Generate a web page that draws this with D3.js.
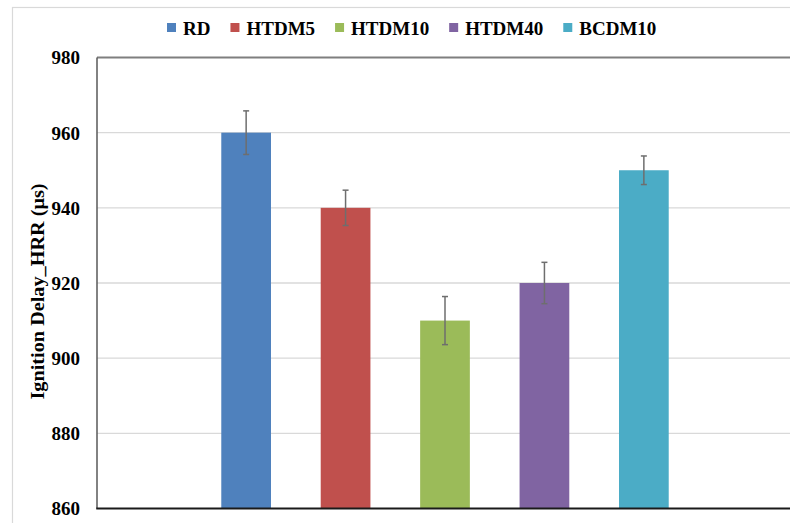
<!DOCTYPE html>
<html>
<head>
<meta charset="utf-8">
<script src="https://cdn.jsdelivr.net/npm/d3@7"></script>
<style>
  html, body { margin: 0; padding: 0; background: #ffffff; }
  svg { display: block; }
  text { font-family: "Liberation Serif", "Times New Roman", serif; font-weight: bold; fill: #000; }
</style>
</head>
<body>
<svg id="chart" width="790" height="523"></svg>
<script>
// Ignition delay (HRR based) per fuel blend, with error bars
const categories = ["RD", "HTDM5", "HTDM10", "HTDM40", "BCDM10"];
const values = [960, 940, 910, 920, 950];
const errors = [5.8, 4.7, 6.4, 5.5, 3.8];
const colors = ["#4F81BD", "#C0504D", "#9BBB59", "#8064A2", "#4BACC6"];
const yTicks = [860, 880, 900, 920, 940, 960, 980];
const yTitle = "Ignition Delay_HRR (\u03bcs)";

const svg = d3.select("#chart");
const plot = { left: 97, right: 793, top: 57.5, bottom: 508.5 };

// outer chart frame
svg.append("rect")
  .attr("x", 12.5).attr("y", 7.5)
  .attr("width", 820).attr("height", 540)
  .attr("fill", "#fff").attr("stroke", "#d9d9d9").attr("stroke-width", 1.2);

const x = d3.scaleBand()
  .domain(categories)
  .range([plot.left, plot.right])
  .paddingInner(0.5)
  .paddingOuter(1.25);

const y = d3.scaleLinear()
  .domain([860, 980])
  .range([plot.bottom, plot.top]);

// gridlines
svg.append("g")
  .selectAll("line")
  .data(yTicks.filter(t => t > 860 && t < 980))
  .join("line")
  .attr("x1", plot.left).attr("x2", plot.right)
  .attr("y1", d => y(d)).attr("y2", d => y(d))
  .attr("stroke", "#d9d9d9").attr("stroke-width", 1.3);

// bars
svg.append("g")
  .selectAll("rect")
  .data(categories)
  .join("rect")
  .attr("x", d => x(d))
  .attr("width", x.bandwidth())
  .attr("y", (d, i) => y(values[i]))
  .attr("height", (d, i) => y(860) - y(values[i]))
  .attr("fill", (d, i) => colors[i]);

// error bars
const eb = svg.append("g").attr("stroke", "#6e6e6e").attr("stroke-width", 1.5);
categories.forEach((c, i) => {
  const cx = x(c) + x.bandwidth() / 2;
  const y1 = y(values[i] + errors[i]);
  const y2 = y(values[i] - errors[i]);
  eb.append("line").attr("x1", cx).attr("x2", cx).attr("y1", y1).attr("y2", y2);
  eb.append("line").attr("x1", cx - 3).attr("x2", cx + 3).attr("y1", y1).attr("y2", y1);
  eb.append("line").attr("x1", cx - 3).attr("x2", cx + 3).attr("y1", y2).attr("y2", y2);
});

// plot frame: top and left edges, bottom axis
svg.append("line")
  .attr("x1", plot.left).attr("x2", plot.right)
  .attr("y1", plot.top).attr("y2", plot.top)
  .attr("stroke", "#7f7f7f").attr("stroke-width", 1.8);
svg.append("line")
  .attr("x1", plot.left).attr("x2", plot.left)
  .attr("y1", plot.top).attr("y2", plot.bottom)
  .attr("stroke", "#595959").attr("stroke-width", 1.5);
svg.append("line")
  .attr("x1", plot.left - 0.75).attr("x2", plot.right)
  .attr("y1", plot.bottom).attr("y2", plot.bottom)
  .attr("stroke", "#1a1a1a").attr("stroke-width", 1.8);

// y axis tick labels
const yAxis = d3.axisLeft(y).tickValues(yTicks).tickSize(0).tickPadding(17);
const gy = svg.append("g")
  .attr("transform", `translate(${plot.left},0)`)
  .call(yAxis);
gy.select(".domain").remove();
gy.selectAll("text")
  .style("font-family", "'Liberation Serif', 'Times New Roman', serif")
  .style("font-weight", "bold")
  .style("font-size", "19px")
  .attr("fill", "#000")
  .attr("dy", "0.34em");

// y axis title (slightly stretched along its length)
svg.append("text")
  .attr("transform", "translate(44,291.5) rotate(-90)")
  .attr("text-anchor", "middle")
  .attr("textLength", 216)
  .attr("lengthAdjust", "spacingAndGlyphs")
  .style("font-size", "19px")
  .text(yTitle);

// legend
const legend = svg.append("g");
let lx = 167;
categories.forEach((c, i) => {
  legend.append("rect")
    .attr("x", lx).attr("y", 23)
    .attr("width", 9).attr("height", 9)
    .attr("fill", colors[i]);
  const t = legend.append("text")
    .attr("x", lx + 16).attr("y", 34.5)
    .style("font-size", "19px")
    .text(c);
  lx += 16 + t.node().getComputedTextLength() + 20;
});
</script>
</body>
</html>
